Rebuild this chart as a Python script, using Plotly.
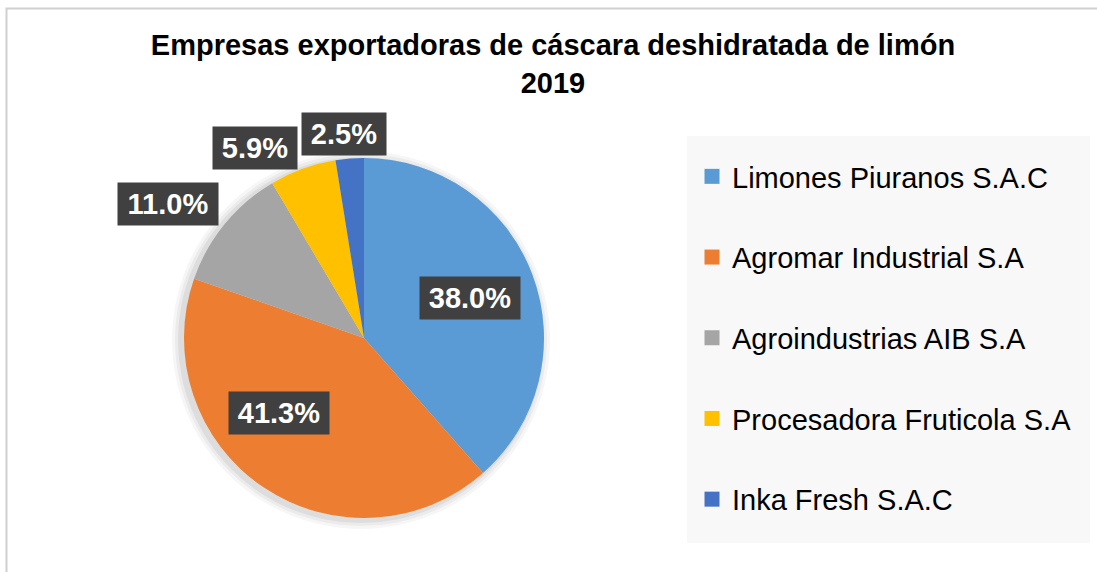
import math
import plotly.graph_objects as go

# ---- data ----
companies = ["Limones Piuranos S.A.C", "Agromar Industrial S.A", "Agroindustrias AIB S.A",
             "Procesadora Fruticola S.A", "Inka Fresh S.A.C"]
shares = [38.0, 41.3, 11.0, 5.9, 2.5]
share_labels = ["38.0%", "41.3%", "11.0%", "5.9%", "2.5%"]
colors = ["#5B9BD5", "#ED7D31", "#A5A5A5", "#FFC000", "#4472C4"]

title_text = "<b>Empresas exportadoras de cáscara deshidratada de limón<br>2019</b>"

# ---- style ----
W, H = 1097, 572
FONT = "Arial, Liberation Sans, sans-serif"
FS = 29
pie_cx, pie_cy, pie_r = 364, 338, 180          # pixel geometry of the pie
dom_x = [(pie_cx - pie_r) / W, (pie_cx + pie_r) / W]
dom_y = [1 - (pie_cy + pie_r) / H, 1 - (pie_cy - pie_r) / H]
label_rfac = [0.63, 0.63, 1.32, 1.22, 1.14]     # radial placement of data labels
label_dang = [0, 15, -5, -10, -1]               # angular nudge (deg)

fig = go.Figure()

# soft shadow behind pie
for grow, op in [(9, 0.035), (6, 0.045), (3, 0.06)]:
    r2 = pie_r + grow
    fig.add_shape(type="circle", xref="paper", yref="paper", layer="below",
                  x0=(pie_cx - 3 - r2) / W, x1=(pie_cx - 3 + r2) / W,
                  y0=1 - (pie_cy + 2 + r2) / H, y1=1 - (pie_cy + 2 - r2) / H,
                  fillcolor=f"rgba(0,0,0,{op})", line_width=0)

fig.add_trace(go.Pie(
    labels=companies, values=shares, sort=False, direction="clockwise", rotation=0,
    marker=dict(colors=colors, line=dict(width=0)),
    textinfo="none", showlegend=False, hoverinfo="label+percent",
    domain=dict(x=dom_x, y=dom_y),
))

# legend entries via placeholder traces (one group each, for spacing)
for name, col in zip(companies, colors):
    fig.add_trace(go.Scatter(
        x=[None], y=[None], mode="markers", name=name, legendgroup=name,
        marker=dict(symbol="square", size=15, color=col, line=dict(width=0)),
    ))

# data labels in dark boxes, positioned from slice angles
total = sum(shares)
cum = 0.0
for i, (v, txt) in enumerate(zip(shares, share_labels)):
    mid = (cum + v / 2) / total * 360 + label_dang[i]
    cum += v
    a = math.radians(mid)
    d = pie_r * label_rfac[i]
    px = pie_cx + d * math.sin(a)
    py = pie_cy - d * math.cos(a)
    fig.add_annotation(
        x=px / W, y=1 - py / H, xref="paper", yref="paper", showarrow=False,
        xanchor="center", yanchor="middle",
        text=f"<b>{txt}</b>", font=dict(family=FONT, size=FS, color="white"),
        bgcolor="#404040", borderpad=5, width=16 * len(txt) + 10, height=32,
    )

# legend background box
fig.add_shape(type="rect", xref="paper", yref="paper", layer="below",
              x0=687 / W, x1=1090 / W, y0=1 - 543 / H, y1=1 - 136 / H,
              fillcolor="#F8F8F8", line_width=0)
# chart border (top/left visible)
fig.add_shape(type="rect", xref="paper", yref="paper", layer="below",
              x0=6.5 / W, x1=1.1, y0=-0.1, y1=1 - 8.5 / H,
              fillcolor="rgba(0,0,0,0)", line=dict(color="#D0D0D0", width=2))

fig.update_layout(
    width=W, height=H, margin=dict(l=0, r=0, t=0, b=0),
    paper_bgcolor="white", plot_bgcolor="white",
    font=dict(family=FONT, color="black"),
    title=dict(text=title_text, x=553 / W, xanchor="center", y=1 - 55 / H, yanchor="top",
               font=dict(family=FONT, size=FS, color="black")),
    xaxis=dict(visible=False), yaxis=dict(visible=False),
    legend=dict(x=692 / W, xanchor="left", y=1 - 151 / H, yanchor="top",
                bgcolor="rgba(0,0,0,0)", font=dict(family=FONT, size=FS, color="black"),
                traceorder="grouped", tracegroupgap=40, itemclick=False),
)

fig.write_html("out.html", config={"displayModeBar": False},
               post_script="document.body.style.margin='0px';")
